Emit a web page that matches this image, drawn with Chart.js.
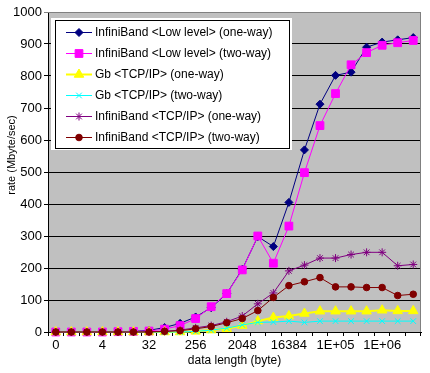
<!DOCTYPE html>
<html>
<head>
<meta charset="utf-8">
<script src="https://cdn.jsdelivr.net/npm/chart.js@4"></script>
<style>
  body { margin: 0; background: #fff; }
  #chart { display: block; }
</style>
</head>
<body>
<canvas id="chart" width="430" height="373"></canvas>
<script>
// data length in bytes, one category per point
const categories = [0, 1, 2, 4, 8, 16, 32, 64, 128, 256, 512, 1024, 2048, 4096, 8192,
    16384, 32768, 65536, 131072, 262144, 524288, 1048576, 2097152, 4194304];
// only every third category gets a label, written like Excel does
const tickLabels = ['0', '4', '32', '256', '2048', '16384', '1E+05', '1E+06'];

const seriesNames = [
    'InfiniBand <Low level> (one-way)',
    'InfiniBand <Low level> (two-way)',
    'Gb <TCP/IP> (one-way)',
    'Gb <TCP/IP> (two-way)',
    'InfiniBand <TCP/IP> (one-way)',
    'InfiniBand <TCP/IP> (two-way)'
];

const ibLowOneWay = [0, 0, 0, 0, 1, 2, 5, 14, 27, 47, 76, 120, 196, 298, 267, 405, 569, 712, 802, 812, 890, 906, 913, 920];
const ibLowTwoWay = [0, 0, 0, 0, 1, 2, 3, 9, 20, 42, 79, 120, 194, 300, 215, 331, 498, 645, 745, 835, 873, 896, 904, 911];
const gbOneWay = [0, 0, 0, 0, 0, 0, 0, 0, 0, 2, 6, 10, 20, 34, 45, 50, 58, 65, 65, 65, 65, 68, 66, 66];
const gbTwoWay = [0, 0, 0, 0, 0, 0, 0, 0, 0, 2, 6, 12, 22, 30, 31, 34, 30, 34, 34, 34, 34, 34, 34, 34];
const ibTcpOneWay = [0, 0, 0, 0, 0, 0, 1, 2, 6, 13, 20, 32, 50, 88, 122, 191, 209, 231, 231, 242, 249, 249, 207, 211];
const ibTcpTwoWay = [0, 0, 0, 0, 0, 0, 0, 2, 4, 10, 17, 29, 42, 67, 108, 145, 157, 170, 141, 141, 139, 139, 114, 118];

const values = [ibLowOneWay, ibLowTwoWay, gbOneWay, gbTwoWay, ibTcpOneWay, ibTcpTwoWay];
const colors = ['#000080', '#ff00ff', '#ffff00', '#00ffff', '#800080', '#800000'];
const markers = ['rectRot', 'rect', 'triangle', 'crossRot', 'star', 'circle'];
const markerSizes = [4, 5.5, 5.5, 4, 4, 3.3];
const lineWidths = [1, 1, 2, 1, 1, 1];

const FONT = '"Liberation Sans", Arial, sans-serif';
const NARROW = '"Liberation Sans Narrow", "Arial Narrow", "Liberation Sans", sans-serif';

const datasets = values.map((data, i) => ({
    label: seriesNames[i],
    data: data,
    borderColor: colors[i],
    backgroundColor: colors[i],
    borderWidth: lineWidths[i],
    pointStyle: markers[i],
    pointRadius: markerSizes[i],
    pointBorderWidth: 1,
    pointBorderColor: colors[i],
    pointBackgroundColor: colors[i],
    tension: 0,
    clip: false,
    order: values.length - i
}));

// grey plot area with a grey frame on top and right
const plotArea = {
    id: 'plotArea',
    beforeDraw(chart) {
        const { ctx, chartArea: a } = chart;
        ctx.save();
        ctx.fillStyle = '#c0c0c0';
        ctx.fillRect(a.left, a.top, a.right - a.left, a.bottom - a.top);
        ctx.restore();
    },
    beforeDatasetsDraw(chart) {
        const { ctx, chartArea: a } = chart;
        ctx.save();
        ctx.strokeStyle = '#808080';
        ctx.lineWidth = 1;
        ctx.beginPath();
        ctx.moveTo(a.left, a.top + 0.5);
        ctx.lineTo(a.right - 0.5, a.top + 0.5);
        ctx.lineTo(a.right - 0.5, a.bottom);
        ctx.stroke();
        ctx.restore();
    }
};

// vertical axis title, placed where Excel put it
const yTitle = {
    id: 'yTitle',
    afterDraw(chart) {
        const ctx = chart.ctx;
        ctx.save();
        ctx.translate(12, 155);
        ctx.rotate(-Math.PI / 2);
        ctx.font = '11px ' + FONT;
        ctx.fillStyle = '#000';
        ctx.textAlign = 'center';
        ctx.textBaseline = 'middle';
        ctx.fillText('rate (Mbyte/sec)', 0, 0);
        ctx.restore();
    }
};

// legend box inside the plot, over the lines
const boxLegend = {
    id: 'boxLegend',
    afterDraw(chart) {
        const ctx = chart.ctx;
        ctx.save();
        ctx.fillStyle = '#fff';
        ctx.fillRect(51, 18, 241, 132);
        ctx.strokeStyle = '#000';
        ctx.lineWidth = 1;
        ctx.strokeRect(55.5, 20.5, 234, 128);
        chart.data.datasets.forEach((ds, i) => {
            const y = 32 + i * 21;
            ctx.strokeStyle = ds.borderColor;
            ctx.lineWidth = ds.borderWidth;
            ctx.beginPath();
            ctx.moveTo(66, y + 0.5);
            ctx.lineTo(92, y + 0.5);
            ctx.stroke();
            if (Chart.helpers && Chart.helpers.drawPoint) {
                ctx.fillStyle = ds.pointBackgroundColor;
                ctx.strokeStyle = ds.pointBorderColor;
                ctx.lineWidth = 1;
                Chart.helpers.drawPoint(ctx, {
                    pointStyle: ds.pointStyle,
                    radius: ds.pointRadius,
                    borderWidth: 1,
                    rotation: 0
                }, 79, y + 0.5);
            }
            ctx.fillStyle = '#000';
            ctx.font = '12px ' + FONT;
            ctx.textAlign = 'left';
            ctx.textBaseline = 'middle';
            ctx.fillText(ds.label, 95, y + 1);
        });
        ctx.restore();
    }
};

new Chart(document.getElementById('chart'), {
    type: 'line',
    data: { labels: categories.map(String), datasets: datasets },
    options: {
        responsive: false,
        animation: false,
        devicePixelRatio: 1,
        layout: { padding: { left: 0, top: 12, right: 9, bottom: 0 } },
        plugins: {
            legend: { display: false },
            tooltip: { enabled: false }
        },
        scales: {
            x: {
                offset: true,
                grid: {
                    offset: true,
                    drawOnChartArea: false,
                    drawTicks: true,
                    tickLength: 4,
                    color: '#000'
                },
                border: { color: '#000', width: 1 },
                ticks: {
                    autoSkip: false,
                    maxRotation: 0,
                    minRotation: 0,
                    padding: 2,
                    color: '#000',
                    font: { family: NARROW, size: 13 },
                    callback: (v, index) => index % 3 === 0 ? tickLabels[index / 3] : ''
                },
                title: {
                    display: true,
                    text: 'data length (byte)',
                    color: '#000',
                    font: { family: FONT, size: 12 },
                    padding: { top: 0, bottom: 5 }
                },
                afterFit: s => { s.height = 41; }
            },
            y: {
                min: 0,
                max: 1000,
                ticks: {
                    stepSize: 100,
                    padding: 2,
                    color: '#000',
                    font: { family: NARROW, size: 13 },
                    callback: v => String(v)
                },
                grid: {
                    color: c => c.tick && c.tick.value === 1000 ? '#808080' : '#000',
                    lineWidth: 1,
                    tickLength: 4,
                    drawTicks: true
                },
                border: { color: '#000', width: 1 },
                afterFit: s => { s.width = 48; }
            }
        }
    },
    plugins: [plotArea, yTitle, boxLegend]
});
</script>
</body>
</html>
